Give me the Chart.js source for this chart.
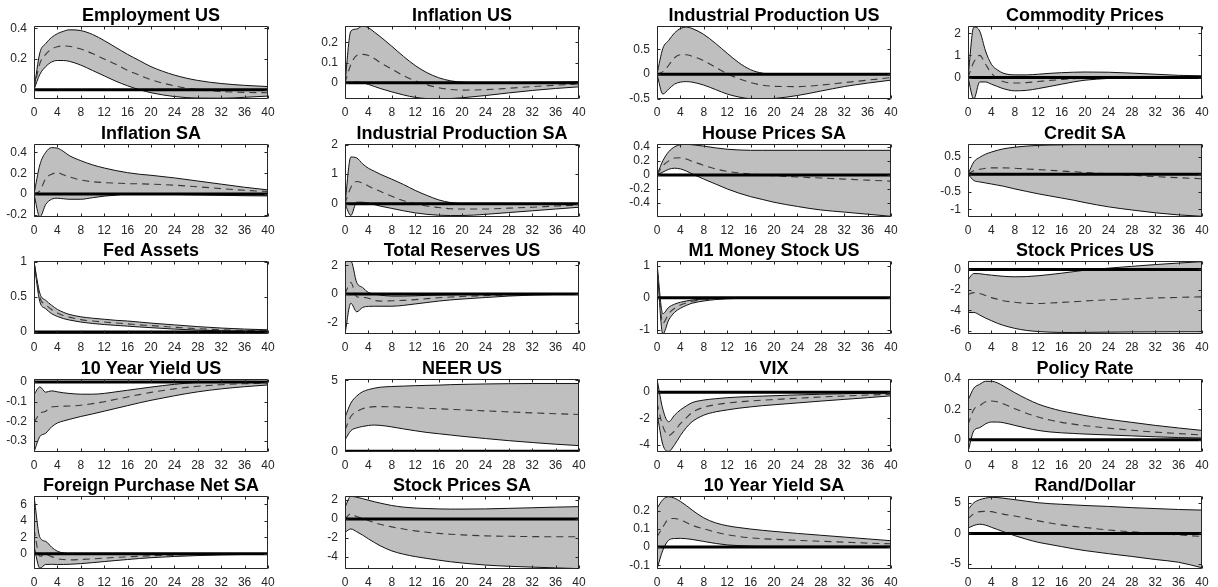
<!DOCTYPE html>
<html><head><meta charset="utf-8">
<script src="https://cdn.jsdelivr.net/npm/chart.js@4.4.1/dist/chart.umd.min.js"></script>
<style>
html,body{margin:0;padding:0;background:#fff;}
body{width:1218px;height:587px;overflow:hidden;position:relative;}
canvas{position:absolute;}
</style></head><body>
<script>
// ---------------- DATA ----------------
const horizons = [0,1,2,3,4,5,6,8,10,12,14,16,18,20,24,28,32,36,40];
const xTicksStep = 4;

const titles = ["Employment US","Inflation US","Industrial Production US","Commodity Prices",
  "Inflation SA","Industrial Production SA","House Prices SA","Credit SA",
  "Fed Assets","Total Reserves US","M1 Money Stock US","Stock Prices US",
  "10 Year Yield US","NEER US","VIX","Policy Rate",
  "Foreign Purchase Net SA","Stock Prices SA","10 Year Yield SA","Rand/Dollar"];

const yMins = [-0.061,-0.08,-0.5,-0.97, -0.22,-0.45,-0.6,-1.22, -0.03,-2.8,-1.14,-6.3, -0.355,-0.05,-4.55,-0.08, -1.85,-5.32,-0.12,-5.8];
const yMaxs = [0.415,0.28,0.97,2.33, 0.48,2.02,0.44,0.86, 1.01,2.3,1.16,0.82, 0.015,5.1,1.0,0.4, 7.0,2.43,0.28,6.1];
const yTickValues = [
  [0,0.2,0.4],[0,0.1,0.2],[-0.5,0,0.5],[0,1,2],
  [-0.2,0,0.2,0.4],[0,1,2],[-0.4,-0.2,0,0.2,0.4],[-1,-0.5,0,0.5],
  [0,0.5,1],[-2,0,2],[-1,0,1],[-6,-4,-2,0],
  [-0.3,-0.2,-0.1,0],[0,5],[-4,-2,0],[0,0.2,0.4],
  [0,2,4,6],[-4,-2,0,2],[-0.1,0,0.1,0.2],[-5,0,5]];

const employmentUS_hi  = [0,0.24,0.30,0.34,0.365,0.38,0.39,0.385,0.36,0.32,0.275,0.23,0.19,0.15,0.095,0.06,0.04,0.028,0.02];
const employmentUS_med = [0,0.17,0.23,0.265,0.28,0.285,0.283,0.265,0.235,0.2,0.165,0.125,0.095,0.065,0.025,0.0,-0.012,-0.018,-0.02];
const employmentUS_lo  = [0,0.10,0.15,0.18,0.19,0.19,0.185,0.16,0.125,0.09,0.055,0.025,0.0,-0.02,-0.045,-0.055,-0.056,-0.05,-0.042];

const inflationUS_hi  = [0,0.255,0.265,0.28,0.272,0.25,0.228,0.18,0.13,0.085,0.05,0.025,0.01,0.003,0.0,0.0,0.002,0.003,0.005];
const inflationUS_med = [0,0.09,0.135,0.14,0.135,0.12,0.10,0.068,0.035,0.01,-0.01,-0.024,-0.033,-0.036,-0.034,-0.027,-0.019,-0.012,-0.006];
const inflationUS_lo  = [0,0.0,0.004,0.0,-0.008,-0.018,-0.028,-0.045,-0.06,-0.072,-0.078,-0.08,-0.078,-0.074,-0.063,-0.05,-0.038,-0.028,-0.02];

const ipUS_hi  = [0,0.52,0.68,0.83,0.92,0.95,0.92,0.8,0.62,0.42,0.23,0.09,0.02,0.0,0.0,-0.005,-0.005,0.0,0.0];
const ipUS_med = [0,0.05,0.18,0.33,0.39,0.39,0.36,0.27,0.14,0.01,-0.09,-0.17,-0.22,-0.245,-0.25,-0.22,-0.17,-0.12,-0.07];
const ipUS_lo  = [0,-0.4,-0.3,-0.2,-0.16,-0.15,-0.16,-0.22,-0.31,-0.4,-0.46,-0.495,-0.5,-0.49,-0.43,-0.34,-0.25,-0.18,-0.12];

const commodity_hi  = [0,2.28,2.1,1.2,0.6,0.35,0.2,0.12,0.12,0.15,0.19,0.22,0.24,0.25,0.24,0.2,0.15,0.1,0.08];
const commodity_med = [0,0.7,1.0,0.6,0.2,-0.05,-0.18,-0.25,-0.23,-0.18,-0.13,-0.09,-0.05,-0.02,0.01,0.03,0.04,0.04,0.04];
const commodity_lo  = [0,-0.97,-0.2,-0.2,-0.3,-0.4,-0.5,-0.6,-0.58,-0.5,-0.4,-0.3,-0.2,-0.12,-0.04,0.0,0.02,0.02,0.02];

const inflationSA_hi  = [0,0.28,0.40,0.445,0.44,0.41,0.37,0.32,0.28,0.25,0.225,0.205,0.19,0.18,0.155,0.125,0.095,0.065,0.04];
const inflationSA_med = [0,0.03,0.15,0.19,0.205,0.185,0.165,0.135,0.118,0.11,0.105,0.1,0.098,0.095,0.085,0.07,0.052,0.036,0.025];
const inflationSA_lo  = [0,-0.22,-0.1,-0.05,-0.04,-0.045,-0.05,-0.05,-0.035,-0.02,-0.01,0.0,0.0,0.0,-0.004,-0.008,-0.012,-0.016,-0.018];

const ipSA_hi  = [0,1.58,1.55,1.35,1.2,1.1,1.0,0.83,0.65,0.45,0.28,0.13,0.04,0.0,-0.02,-0.02,-0.02,-0.02,-0.02];
const ipSA_med = [0,0.55,0.75,0.7,0.6,0.5,0.42,0.25,0.1,0.0,-0.08,-0.13,-0.17,-0.18,-0.18,-0.15,-0.12,-0.08,-0.05];
const ipSA_lo  = [0,-0.4,0.05,0.05,0.02,-0.03,-0.08,-0.16,-0.24,-0.31,-0.36,-0.39,-0.4,-0.4,-0.36,-0.3,-0.24,-0.18,-0.12];

const houseSA_hi  = [0,0.2,0.33,0.4,0.43,0.435,0.43,0.41,0.385,0.365,0.355,0.35,0.35,0.35,0.35,0.35,0.35,0.35,0.35];
const houseSA_med = [0,0.13,0.2,0.24,0.245,0.225,0.195,0.135,0.085,0.05,0.03,0.012,0.0,-0.01,-0.03,-0.045,-0.06,-0.075,-0.09];
const houseSA_lo  = [0,0.04,0.08,0.095,0.085,0.055,0.015,-0.06,-0.13,-0.2,-0.26,-0.31,-0.35,-0.39,-0.45,-0.5,-0.53,-0.56,-0.59];

const creditSA_hi  = [0,0.35,0.48,0.57,0.63,0.68,0.72,0.77,0.8,0.82,0.83,0.835,0.84,0.84,0.84,0.84,0.84,0.84,0.84];
const creditSA_med = [0,0.1,0.14,0.17,0.18,0.18,0.18,0.17,0.15,0.13,0.11,0.09,0.07,0.05,0.01,-0.03,-0.07,-0.1,-0.13];
const creditSA_lo  = [0,-0.18,-0.22,-0.25,-0.28,-0.31,-0.34,-0.42,-0.49,-0.56,-0.62,-0.68,-0.74,-0.81,-0.93,-1.02,-1.1,-1.16,-1.2];

const fedAssets_hi  = [1.0,0.55,0.45,0.38,0.32,0.28,0.25,0.215,0.195,0.18,0.165,0.155,0.14,0.125,0.1,0.075,0.055,0.04,0.03];
const fedAssets_med = [1.0,0.49,0.39,0.32,0.27,0.235,0.21,0.175,0.155,0.14,0.127,0.115,0.1,0.09,0.066,0.046,0.031,0.021,0.015];
const fedAssets_lo  = [1.0,0.43,0.33,0.26,0.22,0.19,0.17,0.14,0.12,0.105,0.093,0.082,0.07,0.06,0.04,0.025,0.015,0.01,0.005];

const reservesUS_hi  = [2.3,2.3,0.8,0.45,0.1,0.0,-0.08,-0.15,-0.15,-0.13,-0.1,-0.08,-0.06,-0.04,-0.02,0.0,0.0,0.0,0.0];
const reservesUS_med = [0,0.8,-0.2,-0.25,-0.3,-0.45,-0.5,-0.48,-0.45,-0.4,-0.33,-0.27,-0.22,-0.18,-0.12,-0.07,-0.04,-0.02,-0.01];
const reservesUS_lo  = [-2.8,-0.65,-1.25,-0.95,-0.87,-0.86,-0.86,-0.86,-0.8,-0.7,-0.6,-0.5,-0.42,-0.36,-0.25,-0.15,-0.08,-0.04,-0.02];

const m1US_hi  = [1.05,-0.5,-0.3,-0.2,-0.14,-0.1,-0.07,-0.04,-0.02,-0.01,0,0,0,0,0,0,0,0,0];
const m1US_med = [1.05,-0.8,-0.5,-0.33,-0.23,-0.16,-0.11,-0.06,-0.03,-0.015,-0.008,-0.004,0,0,0,0,0,0,0];
const m1US_lo  = [1.05,-1.14,-0.7,-0.46,-0.33,-0.24,-0.17,-0.1,-0.055,-0.03,-0.018,-0.01,-0.005,0,0,0,0,0,0];

const stockUS_hi  = [-1.0,-0.4,-0.42,-0.5,-0.56,-0.62,-0.67,-0.72,-0.7,-0.62,-0.5,-0.37,-0.22,-0.08,0.12,0.3,0.47,0.62,0.75];
const stockUS_med = [-2.46,-2.26,-2.35,-2.55,-2.75,-2.9,-3.05,-3.2,-3.3,-3.32,-3.28,-3.22,-3.15,-3.08,-2.97,-2.87,-2.79,-2.73,-2.68];
const stockUS_lo  = [-4.2,-4.2,-4.45,-4.75,-5.0,-5.25,-5.45,-5.75,-5.95,-6.06,-6.12,-6.15,-6.15,-6.14,-6.12,-6.1,-6.09,-6.08,-6.08];

const yieldUS_hi  = [-0.065,-0.025,-0.052,-0.045,-0.05,-0.055,-0.058,-0.062,-0.062,-0.058,-0.05,-0.042,-0.034,-0.026,-0.012,-0.002,0.003,0.003,0.002];
const yieldUS_med = [-0.205,-0.16,-0.148,-0.127,-0.124,-0.123,-0.122,-0.118,-0.11,-0.1,-0.088,-0.076,-0.064,-0.053,-0.035,-0.022,-0.014,-0.009,-0.005];
const yieldUS_lo  = [-0.355,-0.277,-0.26,-0.228,-0.208,-0.198,-0.19,-0.175,-0.162,-0.148,-0.134,-0.12,-0.106,-0.093,-0.07,-0.05,-0.035,-0.024,-0.015];

const neerUS_hi  = [2.4,3.4,3.9,4.2,4.35,4.45,4.52,4.57,4.6,4.63,4.65,4.67,4.7,4.72,4.75,4.77,4.78,4.78,4.78];
const neerUS_med = [1.5,2.45,2.8,3.0,3.1,3.15,3.15,3.14,3.11,3.07,3.03,3.0,2.96,2.92,2.85,2.78,2.71,2.65,2.6];
const neerUS_lo  = [0.8,1.45,1.65,1.75,1.82,1.85,1.83,1.72,1.58,1.45,1.33,1.24,1.15,1.06,0.9,0.75,0.62,0.5,0.4];

const vix_hi  = [1.0,-1.3,-2.25,-1.75,-1.35,-1.05,-0.8,-0.6,-0.5,-0.42,-0.37,-0.33,-0.3,-0.27,-0.21,-0.16,-0.12,-0.08,-0.05];
const vix_med = [-0.8,-2.6,-3.3,-2.95,-2.4,-1.95,-1.55,-1.15,-0.95,-0.83,-0.74,-0.67,-0.61,-0.56,-0.46,-0.37,-0.29,-0.22,-0.16];
const vix_lo  = [-1.6,-4.0,-4.5,-4.0,-3.3,-2.7,-2.25,-1.75,-1.5,-1.35,-1.22,-1.12,-1.03,-0.96,-0.82,-0.68,-0.55,-0.42,-0.28];

const policyRate_hi  = [0.26,0.34,0.365,0.385,0.385,0.375,0.355,0.31,0.27,0.235,0.21,0.19,0.175,0.16,0.135,0.115,0.095,0.078,0.062];
const policyRate_med = [0.1,0.2,0.225,0.25,0.255,0.25,0.237,0.205,0.175,0.15,0.13,0.115,0.103,0.093,0.077,0.063,0.051,0.041,0.032];
const policyRate_lo  = [-0.08,0.06,0.08,0.105,0.117,0.117,0.113,0.095,0.077,0.062,0.052,0.046,0.042,0.038,0.032,0.026,0.02,0.015,0.012];

const foreignSA_hi  = [7.0,2.0,1.5,0.8,0.3,0.1,0.0,-0.05,-0.08,-0.08,-0.07,-0.06,-0.05,-0.04,-0.03,-0.02,-0.01,0,0];
const foreignSA_med = [3.0,-0.3,-0.1,-0.35,-0.6,-0.7,-0.74,-0.7,-0.62,-0.53,-0.45,-0.38,-0.31,-0.25,-0.16,-0.1,-0.06,-0.04,-0.03];
const foreignSA_lo  = [0.9,-1.75,-1.3,-1.28,-1.3,-1.3,-1.28,-1.2,-1.08,-0.95,-0.82,-0.7,-0.58,-0.48,-0.33,-0.22,-0.14,-0.09,-0.06];

const stockSA_hi  = [1.25,2.4,2.3,2.15,1.98,1.82,1.68,1.42,1.25,1.15,1.1,1.06,1.04,1.04,1.06,1.12,1.18,1.25,1.3];
const stockSA_med = [0,0.54,0.25,0.07,-0.17,-0.38,-0.57,-0.85,-1.08,-1.27,-1.42,-1.54,-1.63,-1.7,-1.8,-1.85,-1.88,-1.9,-1.9];
const stockSA_lo  = [-1.43,-1.07,-1.36,-1.72,-2.12,-2.5,-2.85,-3.4,-3.75,-4.0,-4.2,-4.38,-4.55,-4.68,-4.9,-5.03,-5.12,-5.2,-5.28];

const yieldSA_hi  = [0.212,0.26,0.276,0.268,0.25,0.228,0.203,0.16,0.133,0.117,0.107,0.099,0.092,0.086,0.075,0.065,0.055,0.045,0.035];
const yieldSA_med = [0.056,0.11,0.153,0.157,0.148,0.135,0.12,0.1,0.082,0.068,0.058,0.051,0.046,0.043,0.037,0.032,0.027,0.022,0.018];
const yieldSA_lo  = [-0.12,-0.017,0.038,0.047,0.048,0.046,0.042,0.031,0.02,0.012,0.008,0.006,0.005,0.005,0.005,0.005,0.005,0.005,0.005];

const randDollar_hi  = [3.9,5.0,5.5,5.75,5.9,5.85,5.75,5.5,5.25,5.0,4.85,4.75,4.65,4.55,4.4,4.2,4.05,3.9,3.8];
const randDollar_med = [2.4,3.2,3.55,3.6,3.55,3.35,3.15,2.85,2.45,2.05,1.7,1.4,1.15,0.97,0.55,0.25,0.0,-0.25,-0.5];
const randDollar_lo  = [0.87,1.3,1.5,1.35,1.0,0.65,0.3,-0.37,-0.95,-1.45,-1.8,-2.15,-2.5,-2.8,-3.3,-3.75,-4.25,-4.7,-5.6];

const upperBands = [employmentUS_hi,inflationUS_hi,ipUS_hi,commodity_hi,inflationSA_hi,ipSA_hi,houseSA_hi,creditSA_hi,
  fedAssets_hi,reservesUS_hi,m1US_hi,stockUS_hi,yieldUS_hi,neerUS_hi,vix_hi,policyRate_hi,foreignSA_hi,stockSA_hi,yieldSA_hi,randDollar_hi];
const medians = [employmentUS_med,inflationUS_med,ipUS_med,commodity_med,inflationSA_med,ipSA_med,houseSA_med,creditSA_med,
  fedAssets_med,reservesUS_med,m1US_med,stockUS_med,yieldUS_med,neerUS_med,vix_med,policyRate_med,foreignSA_med,stockSA_med,yieldSA_med,randDollar_med];
const lowerBands = [employmentUS_lo,inflationUS_lo,ipUS_lo,commodity_lo,inflationSA_lo,ipSA_lo,houseSA_lo,creditSA_lo,
  fedAssets_lo,reservesUS_lo,m1US_lo,stockUS_lo,yieldUS_lo,neerUS_lo,vix_lo,policyRate_lo,foreignSA_lo,stockSA_lo,yieldSA_lo,randDollar_lo];

// ---------------- LAYOUT ----------------
const PLOT_W = 234, PLOT_H = 73;
const COL_LEFT0 = 34, COL_STEP = 311.3;
const ROW_TOP0 = 26, ROW_STEP = 117.5;
const AXIS_W = 48, PAD_R = 48, PAD_T = 28, AXIS_H = 22;
const FONT = '"Liberation Sans", Arial, Helvetica, sans-serif';

const framePlugin = {
  id: 'frame',
  afterDatasetsDraw(chart, args, opts) {
    const ctx = chart.ctx, a = chart.chartArea;
    const xs = chart.scales.x, ys = chart.scales.y;
    ctx.save();
    const L = Math.round(a.left) + 0.5, R = Math.round(a.right) - 0.5;
    const T = Math.round(a.top) + 0.5, B = Math.round(a.bottom) - 0.5;
    ctx.strokeStyle = '#262626';
    ctx.lineWidth = 1;
    ctx.beginPath();
    ctx.rect(L, T, R - L, B - T);
    const tl = 3;
    xs.ticks.forEach(t => {
      const px = Math.round(xs.getPixelForValue(t.value)) + 0.5;
      ctx.moveTo(px, B); ctx.lineTo(px, B - tl);
      ctx.moveTo(px, T); ctx.lineTo(px, T + tl);
    });
    ys.ticks.forEach(t => {
      const py = Math.round(ys.getPixelForValue(t.value)) + 0.5;
      ctx.moveTo(L, py); ctx.lineTo(L + tl, py);
      ctx.moveTo(R, py); ctx.lineTo(R - tl, py);
    });
    ctx.stroke();
    // title
    ctx.fillStyle = '#000';
    ctx.font = 'bold 18px ' + FONT;
    ctx.textAlign = 'center';
    ctx.textBaseline = 'alphabetic';
    ctx.fillText(opts.text, (a.left + a.right) / 2, a.top - 5.5);
    ctx.restore();
  }
};

function pts(arr) { return horizons.map((h, i) => ({x: h, y: arr[i]})); }

titles.forEach((title, i) => {
  const col = i % 4, row = Math.floor(i / 4);
  const plotL = COL_LEFT0 + col * COL_STEP;
  const plotT = ROW_TOP0 + row * ROW_STEP;
  const cw = AXIS_W + PLOT_W + PAD_R, ch = PAD_T + PLOT_H + AXIS_H;
  const cv = document.createElement('canvas');
  cv.width = cw; cv.height = ch;
  cv.style.width = cw + 'px'; cv.style.height = ch + 'px';
  cv.style.left = (plotL - AXIS_W) + 'px';
  cv.style.top = (plotT - PAD_T) + 'px';
  document.body.appendChild(cv);

  const ticksY = yTickValues[i];
  const chart = new Chart(cv, {
    type: 'line',
    data: {
      datasets: [
        { data: pts(lowerBands[i]), borderColor: '#111', borderWidth: 1, pointRadius: 0, fill: false,
          cubicInterpolationMode: 'monotone', order: 3 },
        { data: pts(upperBands[i]), borderColor: '#111', borderWidth: 1, pointRadius: 0, fill: '-1',
          backgroundColor: 'rgb(191,191,191)', cubicInterpolationMode: 'monotone', order: 4 },
        { data: pts(medians[i]), borderColor: '#3a3a3a', borderWidth: 1.1, borderDash: [7, 5], pointRadius: 0,
          fill: false, cubicInterpolationMode: 'monotone', order: 2 },
        { data: horizons.map(h => ({x: h, y: 0})), borderColor: '#000', borderWidth: 3, pointRadius: 0,
          fill: false, order: 1 }
      ]
    },
    options: {
      responsive: false,
      animation: false,
      events: [],
      layout: { padding: { left: 0, right: PAD_R, top: PAD_T, bottom: 0 } },
      plugins: { legend: { display: false }, tooltip: { enabled: false }, title: { display: false },
        frame: { text: title } },
      scales: {
        x: {
          type: 'linear', min: 0, max: 40,
          grid: { display: false, drawTicks: false }, border: { display: false },
          ticks: { stepSize: xTicksStep, padding: 6, color: '#262626', font: { family: FONT, size: 12 },
                   maxRotation: 0, autoSkip: false },
          afterFit: s => { s.height = AXIS_H; }
        },
        y: {
          type: 'linear', min: yMins[i], max: yMaxs[i],
          grid: { display: false, drawTicks: false }, border: { display: false },
          afterBuildTicks: s => { s.ticks = ticksY.map(v => ({ value: v })); },
          ticks: { padding: 7, color: '#262626', font: { family: FONT, size: 12 },
                   callback: v => String(+Number(v).toFixed(6)) },
          afterFit: s => { s.width = AXIS_W; }
        }
      }
    },
    plugins: [framePlugin]
  });
  const a = chart.chartArea;
  cv.style.left = (plotL - a.left) + 'px';
  cv.style.top = (plotT - a.top) + 'px';
});
</script>
</body></html>
